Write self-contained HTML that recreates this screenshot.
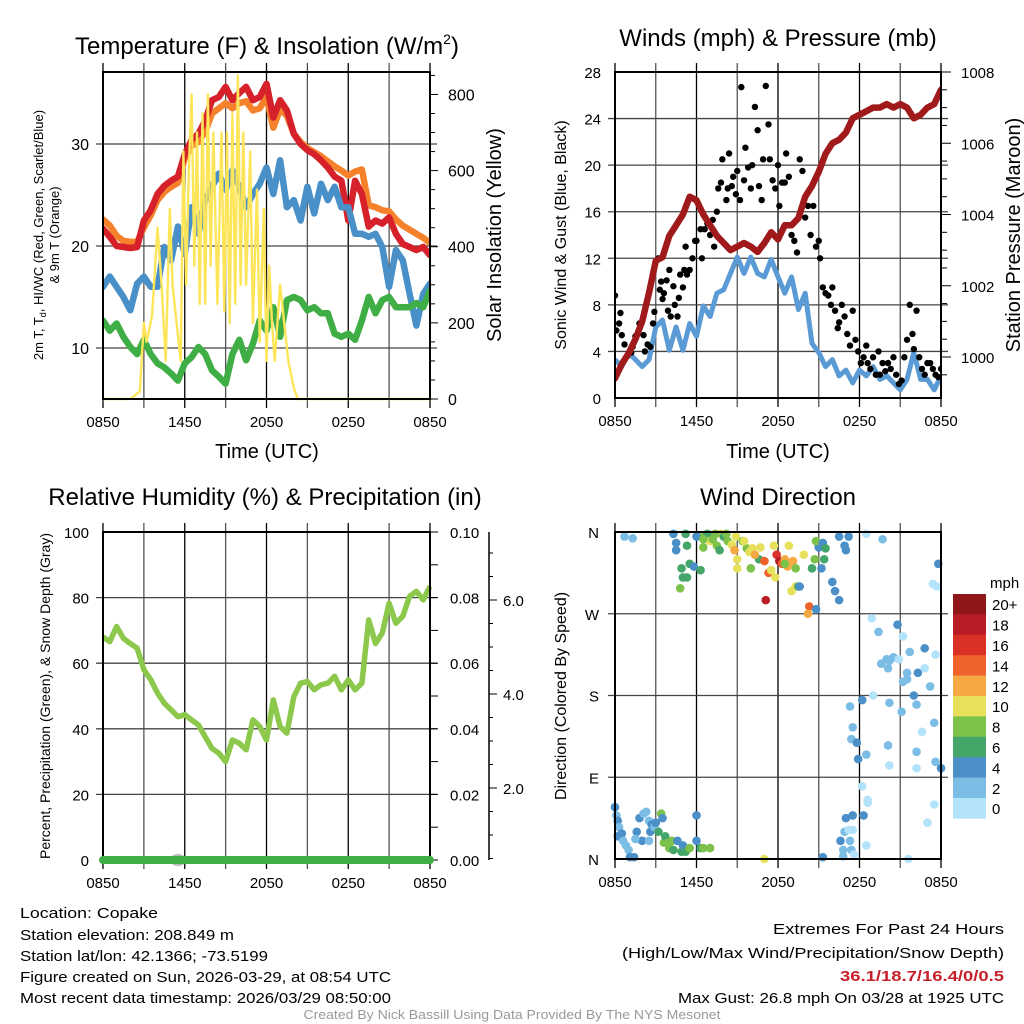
<!DOCTYPE html>
<html><head><meta charset="utf-8"><style>
html,body{margin:0;padding:0;background:#fff}
svg{display:block;font-family:"Liberation Sans",sans-serif}
</style></head><body>
<svg id="s" width="1024" height="1024" viewBox="0 0 1024 1024" xmlns="http://www.w3.org/2000/svg">
<rect x="0" y="0" width="1024" height="1024" fill="#fff"/>
<text x="267" y="54" font-size="24" text-anchor="middle">Temperature (F) &amp; Insolation (W/m<tspan font-size="14" dy="-10">2</tspan><tspan dy="10">)</tspan></text>
<text x="778" y="46" font-size="24" text-anchor="middle">Winds (mph) &amp; Pressure (mb)</text>
<text x="265" y="505" font-size="24" text-anchor="middle">Relative Humidity (%) &amp; Precipitation (in)</text>
<text x="778" y="505" font-size="24" text-anchor="middle">Wind Direction</text>
<text x="267" y="458" font-size="20" text-anchor="middle">Time (UTC)</text>
<text x="778" y="458" font-size="20" text-anchor="middle">Time (UTC)</text>
<text transform="translate(43,235) rotate(-90)" font-size="13" text-anchor="middle">2m T, T<tspan font-size="9" dy="3">d</tspan><tspan dy="-3">, HI/WC (Red, Green, Scarlet/Blue)</tspan></text>
<text transform="translate(59,235) rotate(-90)" font-size="13" text-anchor="middle">&amp; 9m T (Orange)</text>
<text transform="translate(501,235) rotate(-90)" font-size="20" text-anchor="middle">Solar Insolation (Yellow)</text>
<text transform="translate(566,235) rotate(-90)" font-size="16" text-anchor="middle">Sonic Wind &amp; Gust (Blue, Black)</text>
<text transform="translate(1020,235) rotate(-90)" font-size="20" text-anchor="middle">Station Pressure (Maroon)</text>
<text transform="translate(50,696) rotate(-90)" font-size="14" text-anchor="middle">Percent, Precipitation (Green), &amp; Snow Depth (Gray)</text>
<text transform="translate(566,696) rotate(-90)" font-size="16" text-anchor="middle">Direction (Colored By Speed)</text>
<g font-size="15">
<text x="20" y="918" textLength="138" lengthAdjust="spacingAndGlyphs">Location: Copake</text>
<text x="20" y="940" textLength="214" lengthAdjust="spacingAndGlyphs">Station elevation: 208.849 m</text>
<text x="20" y="961" textLength="248" lengthAdjust="spacingAndGlyphs">Station lat/lon: 42.1366; -73.5199</text>
<text x="20" y="982" textLength="371" lengthAdjust="spacingAndGlyphs">Figure created on Sun, 2026-03-29, at 08:54 UTC</text>
<text x="20" y="1003" textLength="371" lengthAdjust="spacingAndGlyphs">Most recent data timestamp: 2026/03/29 08:50:00</text>
<text x="1004" y="934" text-anchor="end" textLength="231" lengthAdjust="spacingAndGlyphs">Extremes For Past 24 Hours</text>
<text x="1004" y="958" text-anchor="end" textLength="382" lengthAdjust="spacingAndGlyphs">(High/Low/Max Wind/Precipitation/Snow Depth)</text>
<text x="1004" y="981" text-anchor="end" fill="#c8202a" font-weight="bold" textLength="164" lengthAdjust="spacingAndGlyphs">36.1/18.7/16.4/0/0.5</text>
<text x="1004" y="1003" text-anchor="end" textLength="326" lengthAdjust="spacingAndGlyphs">Max Gust: 26.8 mph On 03/28 at 1925 UTC</text>
<text x="512" y="1019" text-anchor="middle" fill="#999" font-size="13" textLength="417" lengthAdjust="spacingAndGlyphs">Created By Nick Bassill Using Data Provided By The NYS Mesonet</text>
</g>
</svg>
<script>
// ---- data (time in hours since 0850 UTC) ----
const halfHours = [];
for (let i = 0; i <= 48; i++) halfHours.push(i * 0.5);
const timeTickLabels = ["0850","1450","2050","0250","0850"];
const tempRed = [21.7,20.9,20,19.9,19.8,19.9,22.5,23.5,25.1,25.9,26.4,26.8,29,30.4,31,32.3,34.3,34.6,35.6,34.3,35,35.6,34.3,34.6,35.9,32.6,34.3,33.3,31,30,29.4,29,28.4,27.7,26.8,26.4,22.5,26.4,25.1,21.9,22.5,22.2,22.8,21.2,20.2,19.9,19.6,19.9,19.1];
const tempOrange = [22.6,22,21,20.5,20.4,20.4,21.8,23,24.5,25.3,25.8,26.2,28.6,29.8,30.2,31.2,33.0,33.5,34.0,33.5,34.0,34.2,33.3,33.5,34.6,31.6,33.4,32.8,31.0,30.2,29.6,29.2,28.8,28.3,27.8,27.4,26.9,27.3,27.5,24.0,23.8,23.5,23.4,22.6,22.0,21.6,21.2,20.8,20.3];
const tempBlue = [16,17,16,15,13.7,16.3,17,16,16,19.9,18.6,21.9,19.2,23.8,21.2,24.5,25.8,27.1,25.5,27.4,25.8,23.8,25.1,26.1,27.7,25.1,28.4,23.8,24.5,22.5,25.8,23.2,26.1,24.5,25.8,23.8,23.8,21.2,21.2,20.9,21.2,19.9,16,19.6,18.6,15.3,12.2,15.3,16.3];
const tempGreen = [12.7,11.7,12.4,11.1,10.1,9.4,10.8,9.4,8.5,8.1,7.5,6.8,8.5,9.1,10.1,9.4,7.8,7.2,6.5,9.4,10.8,8.8,10.4,12.7,11.7,14,11.1,14.7,15,14.7,13.7,14,13.4,13.4,11.4,11.1,11.4,10.8,12.7,15,13.4,14.7,15,14,14,14,14.4,14,15.6];
const solarTimes = [0,2,2.7,3,3.2,3.6,4,4.3,4.6,4.9,5.1,5.4,5.7,5.9,6.1,6.3,6.5,6.7,6.9,7.1,7.3,7.5,7.7,7.9,8.1,8.4,8.7,8.9,9.1,9.3,9.5,9.7,9.9,10.1,10.3,10.5,10.8,11,11.3,11.5,11.8,12,12.2,12.4,12.6,12.8,13,13.3,13.6,14,14.3,24];
const solarValues = [0,0,20,200,150,220,450,300,100,500,300,200,100,650,300,600,800,350,700,250,750,250,800,350,700,250,700,230,700,200,750,250,850,300,700,300,650,200,550,150,500,100,350,200,100,200,300,200,100,30,0,0];
const windSpeed = [3.3,2.7,3.9,3.3,2.7,3.3,6.1,6.7,4.1,6.1,4.1,6.4,5.3,7.9,7,9,9.3,10.7,12.1,10.7,12.1,10.7,10.4,11.9,10.4,9,10.4,7.6,9,4.7,3.9,2.7,3.3,1.9,2.4,1.3,2.4,1.9,2.7,1.6,1.9,1.3,0.7,1.6,3.9,1.6,1.6,0.7,1.9];
const pressure = [999.4,999.8,1000.1,1000.5,1001,1001.8,1002.7,1002.8,1003.4,1003.7,1004,1004.5,1004.4,1004,1003.7,1003.4,1003.2,1003,1003.1,1003.2,1003.1,1002.95,1003.2,1003.5,1003.3,1003.7,1003.7,1003.9,1004.5,1004.8,1005.2,1005.7,1006,1006.1,1006.3,1006.7,1006.8,1006.9,1007,1007,1007.1,1007,1007.1,1007,1006.7,1006.8,1007,1007.1,1007.5];
const gustTimes = [0.0,0.1,0.3,0.4,0.5,0.7,0.9,1.2,1.3,1.5,1.7,1.8,2.1,2.2,2.4,2.6,2.8,2.9,3.2,3.3,3.4,3.5,3.6,3.8,3.9,4.0,4.1,4.3,4.4,4.6,4.7,4.8,5.0,5.1,5.2,5.3,5.5,5.7,5.9,6.0,6.3,6.4,6.6,6.8,7.0,7.2,7.3,7.5,7.6,7.8,7.9,8.2,8.3,8.4,8.6,8.7,8.9,9.0,9.2,9.3,9.5,9.6,9.8,10.0,10.1,10.3,10.5,10.6,10.8,10.9,11.1,11.3,11.4,11.6,11.8,12.0,12.1,12.3,12.5,12.6,12.8,13.0,13.2,13.4,13.6,13.8,14.0,14.2,14.4,14.6,14.8,15.0,15.1,15.3,15.5,15.7,15.9,16.0,16.2,16.4,16.5,16.7,16.9,17.1,17.3,17.5,17.7,17.9,18.1,18.3,18.5,18.6,18.8,19.0,19.2,19.4,19.5,19.7,19.9,20.1,20.3,20.5,20.7,20.9,21.1,21.3,21.5,21.7,21.9,22.0,22.2,22.4,22.6,22.8,23.0,23.2,23.4,23.6,23.8,24.0];
const gustValues = [8.8,5.8,6.4,7.3,5.4,4.6,3.6,3.9,4.4,5.3,5.6,6.4,5.4,4.0,4.6,4.4,6.4,7.4,12.0,9.3,10.0,8.5,9.0,10.1,7.5,11.0,7.0,9.6,8.0,7.0,8.6,10.6,9.5,11.0,13.0,10.6,11.0,12.0,13.5,13.5,14.5,12.0,14.5,15.0,14.0,15.3,13.0,16.0,18.0,18.5,20.5,17.0,18.0,21.0,18.2,19.0,17.5,19.5,17.0,26.7,18.7,21.5,19.8,18.0,20.0,25.0,23.0,18.2,17.0,20.5,26.8,23.5,20.5,18.7,18.0,20.0,16.5,18.5,18.5,21.0,19.0,14.0,13.5,12.5,20.5,19.5,15.5,16.5,14.0,16.5,13.0,13.5,12.0,9.5,9.0,8.8,8.0,9.5,7.5,6.0,6.5,8.0,7.0,5.5,4.5,7.5,5.0,4.0,3.0,3.5,4.5,3.0,2.5,3.5,2.0,4.0,2.0,3.0,2.3,3.0,2.5,3.5,2.0,1.2,1.5,3.5,5.0,8.0,5.5,4.2,7.5,3.5,2.5,2.0,3.0,3.0,2.5,2.0,1.8,2.5];
const rhValues = [68,66.6,71.2,67.6,66,64.6,58,55,50.9,47.8,45.8,43.7,44.3,42.7,41.2,37.6,34,32.6,30,36.6,35.6,33.6,42.7,40.7,36.6,48.8,40.7,38.7,49.8,53.9,54.4,51.9,53.4,53.9,56,51.9,54.9,51.9,53.9,73.2,66,69.2,78.3,72.2,74.3,80.4,81.9,79.3,83.4];
const precipValues = [0,0,0,0,0,0,0,0,0,0,0,0,0,0,0,0,0,0,0,0,0,0,0,0,0,0,0,0,0,0,0,0,0,0,0,0,0,0,0,0,0,0,0,0,0,0,0,0,0];
const dirTimes = [0.7,1.3,0,0.1,0.2,0.3,0.2,0.5,0.6,0.8,1.0,1.1,1.4,1.8,2.1,2.3,2.5,2.7,2.6,2.9,2.0,1.6,3.0,3.2,3.4,3.6,3.7,3.9,4.0,4.2,4.3,4.6,4.9,5.0,5.2,5.5,6.0,6.0,6.3,6.5,7.0,3.5,2.5,1.5,
4.3,4.5,4.5,5.2,5.3,4.9,5.0,5.3,5.5,4.8,5.8,6.3,6.5,6.4,6.8,7.0,7.2,7.5,7.8,8.0,7.7,8.3,8.6,8.8,9.0,8.9,9.4,9.0,9.7,9.9,10.1,10.0,10.6,10.3,11.0,11.3,11.5,11.7,11.9,12.1,12.3,11.1,11.8,12.5,12.7,13.1,13.3,13.0,13.3,13.5,12.5,13.9,14.5,14.7,15.0,14.3,14.2,13.6,15.4,15.0,14.8,16.0,16.2,16.5,15.2,15.3,15.5,16.9,17.2,16.5,17.0,14.8,12.8,10.7,9.5,8.2,7.4,6.0,6.5,
18.5,19.7,23.4,23.7,23.8,18.9,19.4,20.8,21.2,21.7,22.8,23.6,19.6,20.0,20.2,20.5,20.1,20.9,21.5,22.3,22.8,21.2,21.5,23.2,22.0,19.0,20.2,21.1,22.2,17.3,18.2,17.5,17.4,17.8,17.9,18.5,20.2,20.1,22.2,23.6,24.0,22.6,23.5,22.2,18.2,18.6,18.6,23.5,23.0,17.0,17.5,16.9,17.2,17.5,18.3,16.6,17.3,17.4,16.8,18.5,15.3,16.8,17.6,21.6,11.0];
const dirDegrees = [355,353,57,48,42,35,25,28,20,15,10,2,2,45,50,52,42,38,30,35,20,30,40,30,50,18,25,18,12,20,10,20,8,15,8,12,48,20,12,12,12,45,20,22,
358,348,340,358,345,320,310,310,325,298,322,318,343,355,358,350,352,345,358,355,340,350,346,340,330,355,350,320,342,338,342,320,330,335,328,315,318,345,335,328,325,285,310,330,322,328,300,295,320,300,325,335,320,330,345,278,270,300,330,343,350,305,295,285,320,348,342,345,355,355,340,275,345,343,350,358,358,355,352,
358,352,303,300,325,265,250,258,245,228,232,225,215,220,218,222,210,220,205,205,210,195,198,190,180,180,172,162,170,168,175,145,132,128,110,115,103,125,100,107,100,140,150,118,80,65,62,60,40,45,48,30,32,32,48,20,20,10,10,15,2,3,5,0,0];
const dirSpeeds = [2,2,4,2,4,2,4,4,2,2,2,4,4,4,2,2,2,4,4,2,4,4,4,6,8,8,6,8,8,8,6,4,6,4,6,8,4,4,6,8,8,4,2,2,
4,4,4,6,6,6,6,6,6,8,4,6,8,8,6,10,8,8,10,6,6,8,10,12,10,10,8,10,8,10,10,8,6,12,14,14,10,10,16,18,14,18,10,12,12,12,10,10,8,6,8,10,6,8,8,14,12,4,6,4,8,4,4,4,4,4,6,4,4,4,4,4,10,10,10,8,8,4,8,
0,2,0,0,4,0,2,4,0,2,4,0,2,2,2,2,2,0,2,4,0,2,2,2,4,0,2,2,2,2,4,2,2,4,4,2,0,2,0,2,4,0,2,2,0,0,0,0,0,4,4,2,0,0,4,4,2,2,2,0,4,2,0,0,10];
const speedBinLabels = ["20+","18","16","14","12","10","8","6","4","2","0"];
const speedBinColors = ["#8f1619","#b81d25","#da3127","#f0622b","#f6a842","#e6e05a","#7bc14a","#45a66a","#4a8fc8","#7cbde6","#b3e3fa"];

// ---- helpers ----
const NS = "http://www.w3.org/2000/svg";
const svg = document.getElementById("s");
function mk(tag, attrs, parent) {
  const e = document.createElementNS(NS, tag);
  for (const k in attrs) e.setAttribute(k, attrs[k]);
  (parent || svg).appendChild(e);
  return e;
}
function linScale(d0, d1, r0, r1) { return v => r0 + (v - d0) * (r1 - r0) / (d1 - d0); }
function pathFrom(xs, ys, sx, sy) {
  let d = "";
  for (let i = 0; i < xs.length; i++) d += (i ? "L" : "M") + sx(xs[i]).toFixed(1) + "," + sy(ys[i]).toFixed(1);
  return d;
}
function addText(x, y, str, size, anchor, name, parent) {
  const t = mk("text", {x: x, y: y, "font-size": size, "text-anchor": anchor}, parent);
  t.textContent = str;
  
  
  return t;
}
function timeGrid(g, L, R, T, B) {
  const sx = linScale(0, 24, L, R);
  for (let h = 0; h <= 24; h += 3) {
    const ln = mk("line", {x1: sx(h), x2: sx(h), y1: T - 9, y2: B + 9, stroke: (h % 6 === 0) ? "#000" : "#555", "stroke-width": 1.3}, g);
    
    
  }
  for (let i = 0; i < timeTickLabels.length; i++) {
    addText(sx(i * 6), B + 28, timeTickLabels[i], 15, "middle", "x-tick-label", g);
  }
  return sx;
}
function frame(g, L, R, T, B) {
  const r = mk("rect", {x: L, y: T, width: R - L, height: B - T, fill: "none", stroke: "#000", "stroke-width": 2}, g);
  
  
}
function hGrid(g, L, R, y, name) {
  const ln = mk("line", {x1: L - 7, x2: R + 7, y1: y, y2: y, stroke: "#444", "stroke-width": 1.3}, g);
  
  
}

// ---- Panel 1: temperature ----
(function () {
  const L = 103, R = 430, T = 72, B = 399;
  const g = mk("g", {});
  
  
  const sx = timeGrid(g, L, R, T, B);
  const sy = linScale(5, 37.06, B, T);
  const sr = linScale(0, 859, B, T);
  [10, 20, 30].forEach(v => { hGrid(g, L, R, sy(v), 'y-gridline'); addText(L - 14, sy(v) + 6, String(v), 16, "end", "y-tick-label", g); });
  for (let v = 0; v <= 850; v += 50) {
    const tk = mk("line", {x1: R, x2: R + (v % 200 === 0 ? 8 : 5), y1: sr(v), y2: sr(v), stroke: "#000", "stroke-width": 1}, g);
    
    
  }
  [0, 200, 400, 600, 800].forEach(v => addText(R + 18, sr(v) + 6, String(v), 16, "start", "right-tick-label", g));
  const clip = mk("clipPath", {id: "c1"}, g);
  mk("rect", {x: L, y: T - 2, width: R - L, height: B - T + 4}, clip);
  const pg = mk("g", {"clip-path": "url(#c1)"}, g);
  const series = [[tempOrange, "#f5822b", 'temp-9m-line'], [tempRed, "#d6202a", 'temp-2m-line'], [tempBlue, "#4a90c8", 'windchill-line'], [tempGreen, "#3fae45", 'dewpoint-line']];
  series.forEach(s => {
    const p = mk("path", {d: pathFrom(halfHours, s[0], sx, sy), fill: "none", stroke: s[1], "stroke-width": 6.5, "stroke-linejoin": "round", "stroke-linecap": "round"}, pg);
    
    
  });
  const sp = mk("path", {d: pathFrom(solarTimes, solarValues, sx, sr), fill: "none", stroke: "#fde55a", "stroke-width": 2.4, "stroke-linejoin": "round"}, pg);
  
  
  frame(g, L, R, T, B);
})();

// ---- Panel 2: winds & pressure ----
(function () {
  const L = 615, R = 941, T = 72, B = 398;
  const g = mk("g", {});
  
  
  const sx = timeGrid(g, L, R, T, B);
  const sy = linScale(0, 28, B, T);
  const sp = linScale(1000, 1008, 357, 72);
  for (let v = 4; v <= 24; v += 4) hGrid(g, L, R, sy(v), 'y-gridline');
  for (let v = 0; v <= 28; v += 4) addText(L - 14, sy(v) + 6, String(v), 15, "end", "y-tick-label", g);
  for (let v = 999.5; v <= 1008.01; v += 0.5) {
    const tk = mk("line", {x1: R, x2: R + (v % 2 === 0 ? 10 : 6), y1: sp(v), y2: sp(v), stroke: "#000", "stroke-width": 1}, g);
    
    
  }
  [1000, 1002, 1004, 1006, 1008].forEach(v => addText(R + 20, sp(v) + 6, String(v), 15, "start", "right-tick-label", g));
  const clip = mk("clipPath", {id: "c2"}, g);
  mk("rect", {x: L, y: T - 2, width: R - L, height: B - T + 4}, clip);
  const pg = mk("g", {"clip-path": "url(#c2)"}, g);
  const wl = mk("path", {d: pathFrom(halfHours, windSpeed, sx, sy), fill: "none", stroke: "#5b9bd5", "stroke-width": 5, "stroke-linejoin": "round"}, pg);
  
  
  for (let i = 0; i < gustTimes.length; i++) {
    const c = mk("circle", {cx: sx(gustTimes[i]), cy: sy(gustValues[i]), r: 3.2, fill: "#000"}, pg);
    
    
  }
  const pl = mk("path", {d: pathFrom(halfHours, pressure, sx, sp), fill: "none", stroke: "#a01a1c", "stroke-width": 6.5, "stroke-linejoin": "round", "stroke-linecap": "round"}, pg);
  
  
  frame(g, L, R, T, B);
})();

// ---- Panel 3: RH & precip ----
(function () {
  const L = 103, R = 430, T = 532, B = 860;
  const g = mk("g", {});
  
  
  const sx = timeGrid(g, L, R, T, B);
  const sy = linScale(0, 100, B, T);
  const sp = linScale(0, 0.1, B, T);
  const ss = linScale(0, 2, 882, 788);
  for (let v = 20; v <= 80; v += 20) hGrid(g, L, R, sy(v), 'y-gridline');
  for (let v = 0; v <= 100; v += 20) addText(L - 14, sy(v) + 6, String(v), 15, "end", "y-tick-label", g);
  for (let v = 0; v <= 0.1001; v += 0.01) {
    const tk = mk("line", {x1: R, x2: R + 8, y1: sp(v), y2: sp(v), stroke: "#000", "stroke-width": 1}, g);
    
    
  }
  for (let v = 0; v <= 0.1001; v += 0.02) addText(R + 20, sp(v) + 6, v.toFixed(2), 15, "start", "right-tick-label", g);
  const ax = mk("line", {x1: 489, x2: 489, y1: T, y2: B, stroke: "#000", "stroke-width": 1.5}, g);
  
  
  for (let v = 0.5; v <= 7.01; v += 0.5) {
    const y = ss(v);
    if (y < T || y > B) continue;
    const tk = mk("line", {x1: 489, x2: 489 + (v % 2 === 0 ? 8 : 4), y1: y, y2: y, stroke: "#000", "stroke-width": 1}, g);
    
    
  }
  [2, 4, 6].forEach(v => addText(503, ss(v) + 6, v.toFixed(1), 15, "start", "snow-tick-label", g));
  const rl = mk("path", {d: pathFrom(halfHours, rhValues, sx, sy), fill: "none", stroke: "#8cc84b", "stroke-width": 5.5, "stroke-linejoin": "round"}, g);
  
  
  const sn = mk("ellipse", {cx: sx(5.5), cy: B, rx: 8, ry: 6, fill: "#bbb"}, g);
  
  
  frame(g, L, R, T, B);
  const pl = mk("path", {d: pathFrom(halfHours, precipValues, sx, sp), fill: "none", stroke: "#3fae45", "stroke-width": 8, "stroke-linecap": "round"}, g);
  
  
})();

// ---- Panel 4: wind direction ----
(function () {
  const L = 615, R = 941, T = 532, B = 859;
  const g = mk("g", {});
  
  
  const sx = timeGrid(g, L, R, T, B);
  const sy = linScale(0, 360, B, T);
  [90, 180, 270].forEach(v => hGrid(g, L, R, sy(v), 'y-gridline'));
  const lbl = ["N", "E", "S", "W", "N"];
  for (let i = 0; i < 5; i++) addText(L - 16, sy(i * 90) + 6, lbl[i], 15, "end", "direction-label", g);
  for (let i = 0; i < dirTimes.length; i++) {
    const bin = Math.min(10, Math.floor(dirSpeeds[i] / 2));
    const c = mk("circle", {cx: sx(dirTimes[i]), cy: sy(dirDegrees[i]), r: 4.3, fill: speedBinColors[10 - bin]}, g);
    
    
  }
  frame(g, L, R, T, B);
  const cb = mk("g", {}, svg);
  
  
  addText(990, 588, "mph", 15, "start", "colorbar-title", cb);
  const h = 20.4;
  for (let i = 0; i < speedBinLabels.length; i++) {
    const r = mk("rect", {x: 953, y: 594 + i * h, width: 33, height: h + 0.3, fill: speedBinColors[i]}, cb);
    
    
    addText(992, 594 + i * h + h / 2 + 6, speedBinLabels[i], 15, "start", "colorbar-label", cb);
  }
})();
</script>
</body></html>
